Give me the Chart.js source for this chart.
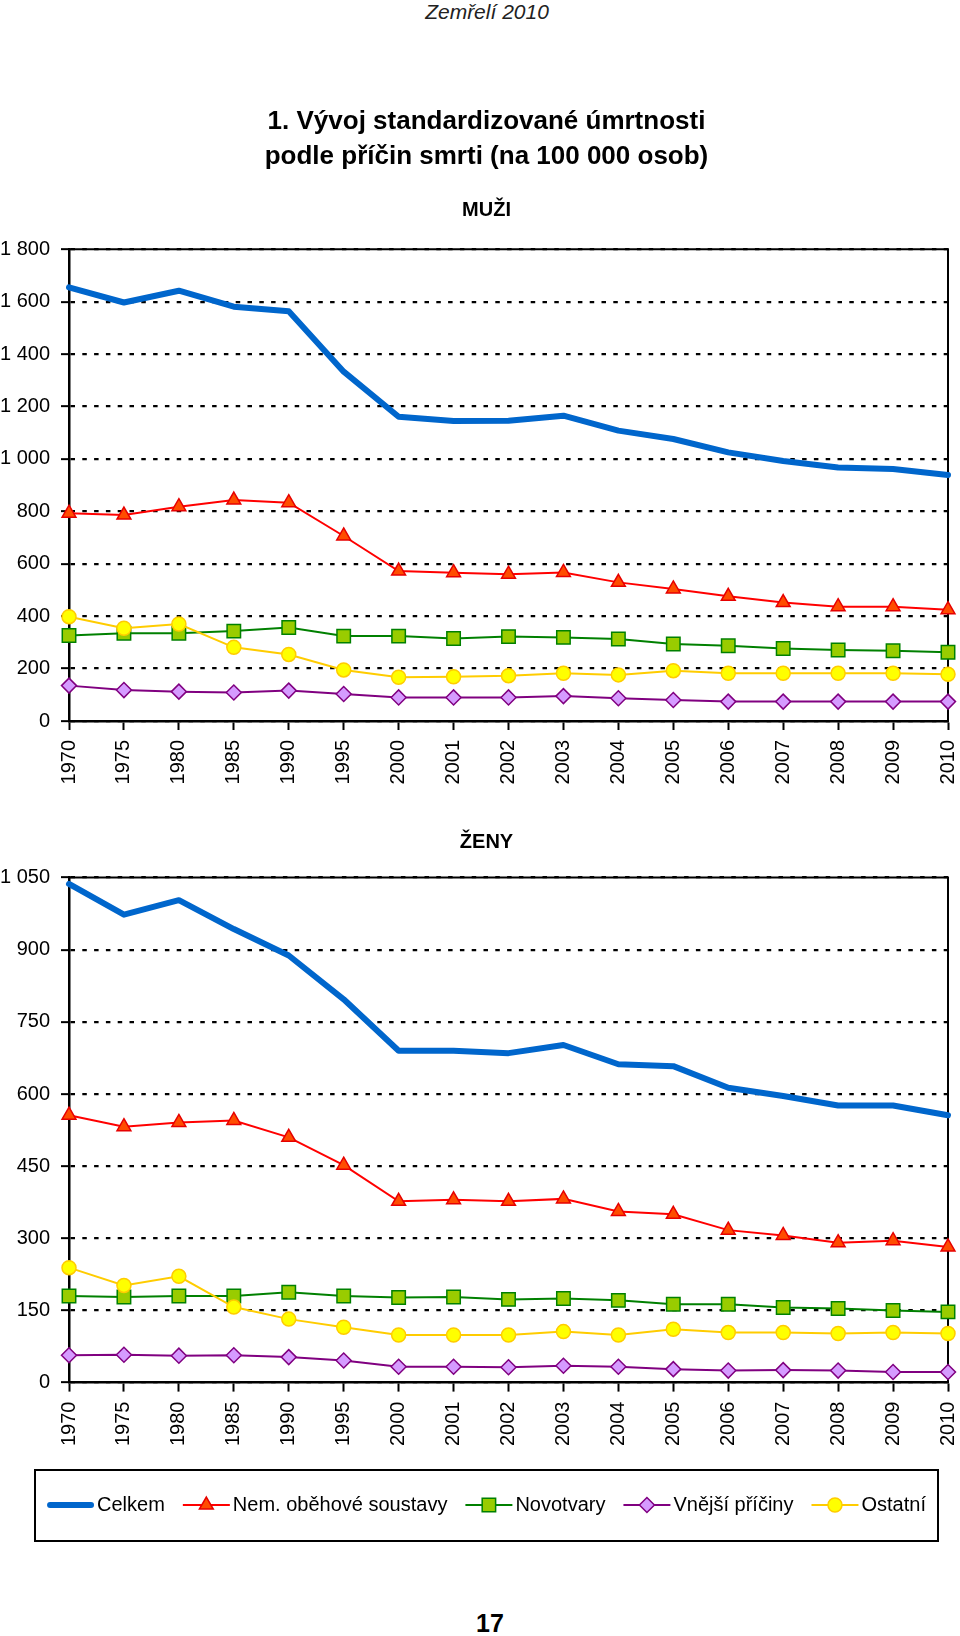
<!DOCTYPE html>
<html>
<head>
<meta charset="utf-8">
<script src="https://cdn.jsdelivr.net/npm/chart.js@4.4.0/dist/chart.umd.min.js"></script>
<style>
  html, body { margin:0; padding:0; background:#fff; width:960px; height:1636px; overflow:hidden;
    font-family:"Liberation Sans", Arial, Helvetica, sans-serif; color:#000; }
  #hdr { position:absolute; left:0; top:0; width:974px; text-align:center; font-style:italic; font-size:21px; line-height:24px; color:#222; }
  #c1 { position:absolute; left:0; top:0; }
  #c2 { position:absolute; left:0; top:800px; }
  #ftr { position:absolute; left:0; top:1608px; width:980px; text-align:center; font-weight:bold; font-size:25px; line-height:30px; }
</style>
</head>
<body>
<div id="hdr">Zemřelí 2010</div>
<canvas id="c1" width="960" height="800"></canvas>
<canvas id="c2" width="960" height="760"></canvas>
<div id="ftr">17</div>
<script>
// ---------------- DATA ----------------
const years = ['1970','1975','1980','1985','1990','1995','2000','2001','2002','2003','2004','2005','2006','2007','2008','2009','2010'];
const seriesNames = ['Celkem', 'Nem. oběhové soustavy', 'Novotvary', 'Vnější příčiny', 'Ostatní'];

const menTitle = ['1. Vývoj standardizované úmrtnosti', 'podle příčin smrti (na 100 000 osob)'];
const menSubtitle = 'MUŽI';
const womenTitle = 'ŽENY';

const menYTicks = [0, 200, 400, 600, 800, 1000, 1200, 1400, 1600, 1800];
const womenYTicks = [0, 150, 300, 450, 600, 750, 900, 1050];

const menCelkem  = [1655, 1597, 1642, 1581, 1564, 1333, 1161, 1145, 1146, 1165, 1108, 1076, 1025, 992, 967, 962, 939];
const menObeh    = [793, 786, 818, 843, 833, 706, 572, 566, 560, 567, 529, 504, 476, 452, 436, 436, 425];
const menNovo    = [326, 335, 335, 343, 357, 324, 324, 315, 322, 319, 313, 294, 287, 277, 271, 268, 262];
const menVnejsi  = [135, 118, 112, 109, 116, 103, 90, 90, 90, 95, 87, 80, 74, 74, 74, 74, 74];
const menOstatni = [398, 354, 370, 281, 254, 195, 167, 169, 173, 182, 176, 192, 182, 182, 182, 182, 178];

const womenCelkem  = [1037, 973, 1003, 943, 888, 797, 690, 690, 685, 702, 662, 658, 613, 596, 576, 576, 556];
const womenObeh    = [556, 532, 541, 545, 510, 452, 377, 380, 377, 382, 356, 350, 317, 306, 291, 295, 282];
const womenNovo    = [180, 178, 180, 180, 188, 180, 177, 178, 173, 175, 171, 163, 163, 156, 154, 150, 147];
const womenVnejsi  = [57, 58, 56, 57, 53, 46, 33, 33, 32, 35, 33, 28, 25, 26, 25, 22, 22];
const womenOstatni = [239, 202, 221, 157, 132, 115, 99, 99, 99, 106, 99, 111, 104, 104, 102, 104, 102];

// ---------------- STYLE ----------------
const FONT = '"Liberation Sans", Arial, Helvetica, sans-serif';
Chart.defaults.font.family = FONT;
Chart.defaults.color = '#000';
Chart.defaults.animation = false;

const seriesStyles = [
  { borderColor:'#0066cc', borderWidth:6, pointRadius:0, borderCapStyle:'round', borderJoinStyle:'round' },
  { borderColor:'#ff0000', borderWidth:2, pointStyle:'triangle', pointRadius:8, pointBackgroundColor:'#ff4d00', pointBorderColor:'#e60000', pointBorderWidth:1.5 },
  { borderColor:'#008000', borderWidth:2, pointStyle:'rect', pointRadius:9.5, pointBackgroundColor:'#99cc00', pointBorderColor:'#008000', pointBorderWidth:1.5 },
  { borderColor:'#800080', borderWidth:2, pointStyle:'rectRot', pointRadius:7.5, pointBackgroundColor:'#d59bff', pointBorderColor:'#800080', pointBorderWidth:1.5 },
  { borderColor:'#ffcc00', borderWidth:2, pointStyle:'circle', pointRadius:7, pointBackgroundColor:'#ffff00', pointBorderColor:'#ffcc00', pointBorderWidth:1.5 }
];

const PAD_L = 25, PAD_R = 12, PLOT_LEFT = 69;

function fmt(v) { return String(v).replace(/\B(?=(\d{3})+(?!\d))/g, ' '); }

function buildDatasets(lists) {
  return lists.map((vals, i) => Object.assign({
    label: seriesNames[i], data: vals, order: lists.length - i, clip: false, tension: 0, fill: false,
    pointHoverRadius: 0
  }, seriesStyles[i]));
}

function buildScales(yTicks, xHeight) {
  return {
    x: {
      type: 'category', offset: false,
      grid: { drawOnChartArea: false, drawTicks: true, tickLength: 9, tickColor: '#000', tickWidth: 2 },
      border: { display: true, color: '#000', width: 2.5 },
      ticks: { autoSkip: false, minRotation: 90, maxRotation: 90, padding: 10, color: '#000', font: { size: 20 } },
      afterFit: s => { s.height = xHeight; s.paddingLeft = 0; s.paddingRight = 0; }
    },
    y: {
      min: yTicks[0], max: yTicks[yTicks.length - 1],
      afterBuildTicks: s => { s.ticks = yTicks.map(v => ({ value: v })); },
      afterFit: s => { s.width = PLOT_LEFT - PAD_L; },
      grid: { color: '#000', lineWidth: 2.3, drawTicks: true, tickLength: 8, tickColor: '#000', tickWidth: 2, tickBorderDash: [] },
      border: { display: true, color: '#000', width: 2.5, dash: [4.5, 7.3] },
      ticks: { padding: 11, color: '#000', font: { size: 20 }, callback: v => fmt(v) }
    }
  };
}

// y tick labels extend left of the (narrow) axis box: do not clip them
const noLabelClip = {
  id: 'noLabelClip',
  beforeDraw(chart) {
    Object.values(chart.scales).forEach(s => { s._computeLabelArea = () => undefined; });
  }
};

const framePlugin = {
  id: 'frame',
  beforeDatasetsDraw(chart) {
    const { ctx, chartArea: a } = chart;
    ctx.save();
    ctx.strokeStyle = '#000'; ctx.lineWidth = 2; ctx.setLineDash([]);
    ctx.beginPath();
    ctx.moveTo(a.left, a.top); ctx.lineTo(a.right, a.top); ctx.lineTo(a.right, a.bottom);
    ctx.stroke();
    ctx.restore();
  }
};

function drawMarker(ctx, ds, x, y) {
  if (!ds.pointRadius) return;
  ctx.fillStyle = ds.pointBackgroundColor; ctx.strokeStyle = ds.pointBorderColor; ctx.lineWidth = ds.pointBorderWidth;
  Chart.helpers.drawPoint(ctx, { pointStyle: ds.pointStyle, radius: ds.pointRadius, rotation: 0, borderWidth: ds.pointBorderWidth }, x, y);
}

const legendSamples = {
  id: 'legendSamples',
  afterDraw(chart) {
    const lg = chart.legend;
    if (!lg || !lg.legendHitBoxes || !lg.legendHitBoxes.length) return;
    const ctx = chart.ctx;
    const hb0 = lg.legendHitBoxes[0];
    const cy = hb0.top + hb0.height / 2;
    ctx.save();
    ctx.setLineDash([]);
    ctx.strokeStyle = '#000'; ctx.lineWidth = 2;
    ctx.strokeRect(lg.left + 10, cy - 35, (lg.right - lg.left) - 20, 71);
    lg.legendItems.forEach((item, i) => {
      const hb = lg.legendHitBoxes[i];
      const ds = chart.data.datasets[item.datasetIndex];
      const y = hb.top + hb.height / 2;
      ctx.beginPath();
      ctx.lineCap = ds.borderCapStyle || 'butt';
      ctx.strokeStyle = ds.borderColor; ctx.lineWidth = ds.borderWidth;
      const inset = ds.borderCapStyle === 'round' ? ds.borderWidth / 2 : 0;
      ctx.moveTo(hb.left + inset, y); ctx.lineTo(hb.left + 47 - inset, y);
      ctx.stroke();
      ctx.lineCap = 'butt';
      drawMarker(ctx, ds, hb.left + 23.5, y);
    });
    ctx.restore();
  }
};

// ---------------- CHART 1: MUŽI ----------------
new Chart(document.getElementById('c1'), {
  type: 'line',
  data: { labels: years, datasets: buildDatasets([menCelkem, menObeh, menNovo, menVnejsi, menOstatni]) },
  options: {
    responsive: false, animation: false,
    layout: { padding: { left: PAD_L, right: PAD_R, top: 0, bottom: 0 } },
    scales: buildScales(menYTicks, 79),
    plugins: {
      legend: { display: false },
      tooltip: { enabled: false },
      title: { display: true, text: menTitle, color: '#000', font: { size: 26, weight: 'bold', lineHeight: 35 / 26 }, padding: { top: 104.5, bottom: 0 } },
      subtitle: { display: true, text: menSubtitle, color: '#000', font: { size: 20, weight: 'bold', lineHeight: 1.2 }, padding: { top: 23.5, bottom: 27.3 } }
    }
  },
  plugins: [noLabelClip, framePlugin]
});

// ---------------- CHART 2: ŽENY ----------------
new Chart(document.getElementById('c2'), {
  type: 'line',
  data: { labels: years, datasets: buildDatasets([womenCelkem, womenObeh, womenNovo, womenVnejsi, womenOstatni]) },
  options: {
    responsive: false, animation: false,
    layout: { padding: { left: PAD_L, right: PAD_R, top: 0, bottom: 35 } },
    scales: buildScales(womenYTicks, 94.4),
    plugins: {
      tooltip: { enabled: false },
      title: { display: true, text: womenTitle, color: '#000', font: { size: 20, weight: 'bold', lineHeight: 1.2 }, padding: { top: 30, bottom: 23.6 } },
      legend: {
        display: true, position: 'bottom',
        labels: {
          boxWidth: 40, boxHeight: 14, padding: 18, color: '#000', font: { size: 20 },
          sort: (a, b) => a.datasetIndex - b.datasetIndex,
          generateLabels: chart => chart.data.datasets.map((ds, i) => ({
            text: ds.label, datasetIndex: i, fillStyle: 'rgba(0,0,0,0)', strokeStyle: 'rgba(0,0,0,0)',
            lineWidth: 0, hidden: false, fontColor: '#000'
          }))
        }
      }
    }
  },
  plugins: [noLabelClip, framePlugin, legendSamples]
});
</script>
</body>
</html>
